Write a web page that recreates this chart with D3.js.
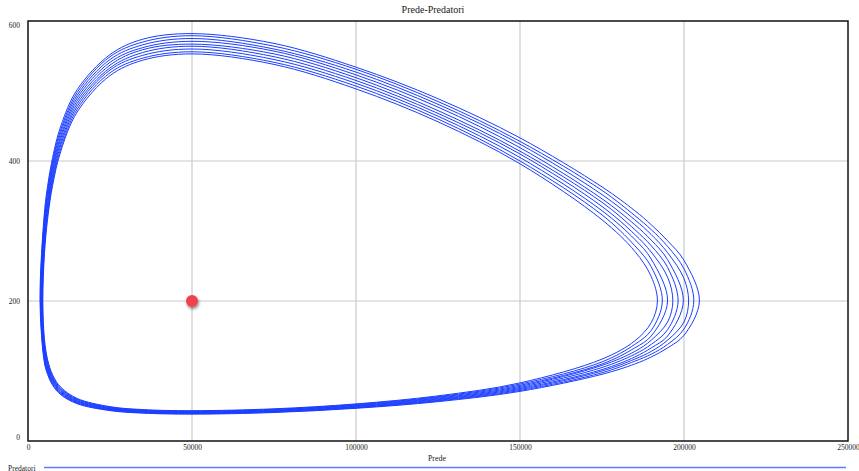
<!DOCTYPE html>
<html>
<head>
<meta charset="utf-8">
<script src="https://cdn.jsdelivr.net/npm/d3@7"></script>
<style>
    body { margin: 0; background: #fff; }
    text { font-family: "Liberation Serif", "Times New Roman", serif; fill: #222; }
</style>
</head>
<body>
<div class="chart"></div>
<script>

// prede sampled along every loop; the upper branch is read right -> left
const predeGriglia = [200000, 195000, 190000, 185000, 175000, 150000, 125000, 100000, 75000, 50000, 35000, 25000, 15000, 10000, 7500, 6000, 5000];

// extremes of each loop (at predatori = 200)
const predeMax = [191900, 193400, 195000, 196600, 198200, 199800, 201400, 203000, 204700];
const predeMin = [4525, 4415, 4310, 4205, 4100, 3995, 3890, 3780, 3675];

// predatori on the upper branch, one row per loop (null = loop does not reach)
const predatoriSopra = [
    [null, null, 235, 271, 316, 396, 456, 503, 538, 553, 544, 522, 470, 414, 365, 318, 266],
    [null, null, 249, 279, 323, 400, 460, 507, 541, 556, 547, 526, 474, 418, 370, 324, 275],
    [null, null, 260, 288, 329, 405, 464, 511, 545, 560, 551, 530, 478, 423, 375, 331, 284],
    [null, 234, 270, 295, 335, 410, 468, 515, 549, 564, 555, 533, 482, 427, 380, 337, 292],
    [null, 248, 279, 302, 341, 414, 472, 519, 553, 567, 559, 537, 486, 432, 385, 342, 299],
    [null, 259, 287, 309, 346, 419, 477, 523, 557, 571, 562, 541, 490, 436, 390, 348, 306],
    [232, 269, 295, 316, 352, 424, 481, 527, 560, 575, 566, 545, 494, 441, 395, 354, 313],
    [246, 278, 302, 322, 358, 428, 485, 531, 564, 579, 570, 549, 498, 445, 400, 359, 319],
    [258, 286, 309, 329, 363, 433, 489, 534, 568, 582, 574, 552, 502, 450, 405, 365, 326]
];

// predatori on the lower branch, same columns
const predatoriSotto = [
    [null, null, 169, 143, 117, 83, 64.5, 53, 46, 43.3, 44.9, 49.1, 60.8, 76.8, 94.6, 115.8, 146],
    [null, null, 158, 138, 113, 81.3, 63.3, 52.2, 45.3, 42.7, 44.2, 48.3, 59.8, 75.2, 92.4, 112.6, 140],
    [null, null, 150, 133, 110, 79.6, 62.3, 51.3, 44.6, 42, 43.6, 47.6, 58.8, 73.8, 90.2, 109.4, 135],
    [null, 170, 144, 128, 108, 78, 61.2, 50.5, 43.9, 41.4, 42.9, 46.8, 57.8, 72.4, 88.4, 106.8, 130],
    [null, 159, 138, 124, 105, 76.5, 60.1, 49.7, 43.3, 40.8, 42.2, 46.1, 56.8, 71.1, 86.7, 104.2, 126],
    [null, 150, 133, 120, 102, 75, 59.1, 48.9, 42.6, 40.1, 41.6, 45.4, 55.9, 69.8, 85, 101.4, 122],
    [170, 144, 128, 117, 100, 73.6, 58.1, 48.1, 42, 39.6, 41, 44.7, 55, 68.5, 83.2, 99, 118],
    [160, 138, 124, 114, 97.5, 72.2, 57.2, 47.4, 41.3, 39, 40.4, 44, 54.1, 67.3, 81.4, 96.8, 115],
    [151, 133, 120, 110, 95.3, 70.9, 56.2, 46.7, 40.7, 38.4, 39.8, 43.4, 53.2, 66.1, 79.6, 94.8, 112]
];

const equilibrio = [50000, 200];

const xTicks = [0, 50000, 100000, 150000, 200000, 250000];
const yTicks = [0, 200, 400, 600];


function buildLoop(i) {
    const pts = [[predeMax[i], equilibrio[1]]];
    predeGriglia.forEach((x, j) => {
        if (predatoriSopra[i][j] != null) pts.push([x, predatoriSopra[i][j]]);
    });
    pts.push([predeMin[i], equilibrio[1]]);
    for (let j = predeGriglia.length - 1; j >= 0; j--) {
        if (predatoriSotto[i][j] != null) pts.push([predeGriglia[j], predatoriSotto[i][j]]);
    }
    return pts;
}


function PhaseChart(container) {

    const margin = { top: 21, right: 11, bottom: 30, left: 28 };
    const width = 820, height = 420;

    const root = d3.select(container)
        .append("svg")
        .attr("width", width + margin.left + margin.right)
        .attr("height", height + margin.top + margin.bottom);

    // soft shadow for the equilibrium point
    root.append("defs").append("filter")
        .attr("id", "ombra")
        .attr("x", "-50%").attr("y", "-50%")
        .attr("width", "200%").attr("height", "200%")
        .append("feDropShadow")
        .attr("dx", 1).attr("dy", 2)
        .attr("stdDeviation", 1.4)
        .attr("flood-color", "#000")
        .attr("flood-opacity", 0.45);

    const svg = root.append("g")
        .attr("transform", `translate(${margin.left}, ${margin.top})`);

    let xScale = d3.scaleLinear().domain([0, 250000]).range([0, width]);
    let yScale = d3.scaleLinear().domain([0, 600]).range([height, 0]);

    // grid
    svg.append("g").selectAll("line")
        .data(xTicks.slice(1, -1))
        .join("line")
        .attr("x1", d => xScale(d)).attr("x2", d => xScale(d))
        .attr("y1", 0).attr("y2", height)
        .attr("stroke", "#cacaca")
        .attr("stroke-width", 1.2);
    svg.append("g").selectAll("line")
        .data(yTicks.slice(1, -1))
        .join("line")
        .attr("x1", 0).attr("x2", width)
        .attr("y1", d => yScale(d)).attr("y2", d => yScale(d))
        .attr("stroke", "#cacaca")
        .attr("stroke-width", 1.2);

    function update() {
        const line = d3.line()
            .x(d => xScale(d[0]))
            .y(d => yScale(d[1]))
            .curve(d3.curveCatmullRomClosed.alpha(0.5));

        const loops = d3.range(predeMax.length).map(buildLoop);

        svg.append("g")
            .selectAll("path")
            .data(loops)
            .join("path")
            .attr("d", line)
            .attr("fill", "none")
            .attr("stroke", "#1a3dff")
            .attr("stroke-width", 1);

        svg.append("circle")
            .attr("cx", xScale(equilibrio[0]))
            .attr("cy", yScale(equilibrio[1]))
            .attr("r", 6)
            .attr("fill", "#f2414d")
            .attr("filter", "url(#ombra)");

        // frame
        svg.append("rect")
            .attr("width", width).attr("height", height)
            .attr("fill", "none")
            .attr("stroke", "#111")
            .attr("stroke-width", 1.5);

        // axes
        const xAxis = d3.axisBottom(xScale).tickValues(xTicks).tickSize(0).tickPadding(4).tickFormat(d3.format("d"));
        svg.append("g")
            .attr("transform", `translate(0, ${height})`)
            .call(xAxis)
            .call(g => g.select(".domain").remove())
            .call(g => g.selectAll("text").attr("font-size", 7.5).attr("fill", "#222").attr("font-family", null));

        const yAxis = d3.axisLeft(yScale).tickValues(yTicks).tickSize(0).tickPadding(8);
        svg.append("g")
            .call(yAxis)
            .call(g => g.select(".domain").remove())
            .call(g => g.selectAll("text")
                .attr("font-size", 7.5).attr("fill", "#222").attr("font-family", null)
                .attr("y", d => d == 0 ? -4 : d == 600 ? 4 : 0));

        // titles
        root.append("text")
            .attr("x", 433).attr("y", 13)
            .attr("text-anchor", "middle")
            .attr("font-size", 10)
            .text("Prede-Predatori");

        root.append("text")
            .attr("x", 437).attr("y", 461)
            .attr("text-anchor", "middle")
            .attr("font-size", 8)
            .text("Prede");

        // legend
        root.append("text")
            .attr("x", 8).attr("y", 470.5)
            .attr("font-size", 7.5)
            .text("Predatori");
        root.append("line")
            .attr("x1", 44).attr("x2", 846)
            .attr("y1", 467.5).attr("y2", 467.5)
            .attr("stroke", "#5b7eff")
            .attr("stroke-width", 1.5);
    }

    return {
        update
    };
}

const chart1 = PhaseChart(".chart");
chart1.update();
</script>
</body>
</html>
